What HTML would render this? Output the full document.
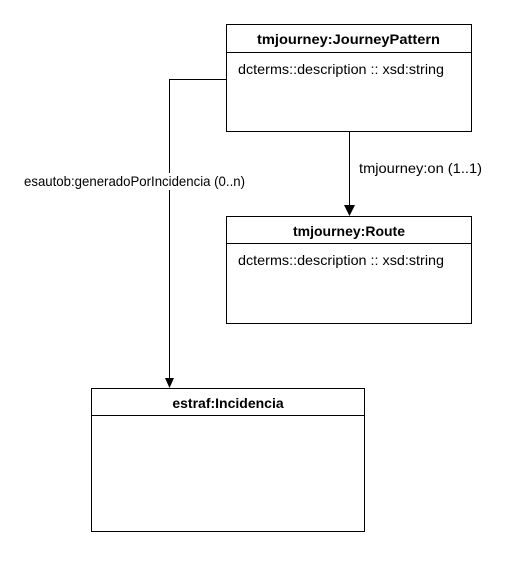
<!DOCTYPE html>
<html><head><style>body{margin:0;background:#fff}</style></head><body>
<svg width="518" height="558" xmlns="http://www.w3.org/2000/svg" font-family="Liberation Sans, Arial, sans-serif" font-size="14">
<rect x="0" y="0" width="518" height="558" fill="#fff"/>
<rect x="226.5" y="24.5" width="245" height="107" fill="#fff" stroke="#000"/>
<line x1="226.5" y1="52.5" x2="471.5" y2="52.5" stroke="#000"/>
<text x="257" y="44" font-weight="bold" textLength="183" lengthAdjust="spacingAndGlyphs">tmjourney:JourneyPattern</text>
<text x="238" y="74" textLength="206" lengthAdjust="spacingAndGlyphs">dcterms::description :: xsd:string</text>
<rect x="226.5" y="216.5" width="245" height="107" fill="#fff" stroke="#000"/>
<line x1="226.5" y1="243.5" x2="471.5" y2="243.5" stroke="#000"/>
<text x="349" y="236" text-anchor="middle" font-weight="bold">tmjourney:Route</text>
<text x="238" y="265" textLength="206" lengthAdjust="spacingAndGlyphs">dcterms::description :: xsd:string</text>
<rect x="91.5" y="388.5" width="273" height="143" fill="#fff" stroke="#000"/>
<line x1="91.5" y1="415.5" x2="364.5" y2="415.5" stroke="#000"/>
<text x="228" y="408" text-anchor="middle" font-weight="bold">estraf:Incidencia</text>
<line x1="349.5" y1="131.5" x2="349.5" y2="206" stroke="#000"/>
<polygon points="344,205 355,205 349.5,216" fill="#000"/>
<text x="359" y="173" textLength="123" lengthAdjust="spacingAndGlyphs">tmjourney:on (1..1)</text>
<polyline points="226.5,79.5 169.5,79.5 169.5,380" fill="none" stroke="#000"/>
<polygon points="165,378 174,378 169.5,388" fill="#000"/>
<rect x="22" y="173" width="226" height="17" fill="#fff"/>
<text x="24" y="186" textLength="221" lengthAdjust="spacingAndGlyphs">esautob:generadoPorIncidencia (0..n)</text>
</svg>
</body></html>
